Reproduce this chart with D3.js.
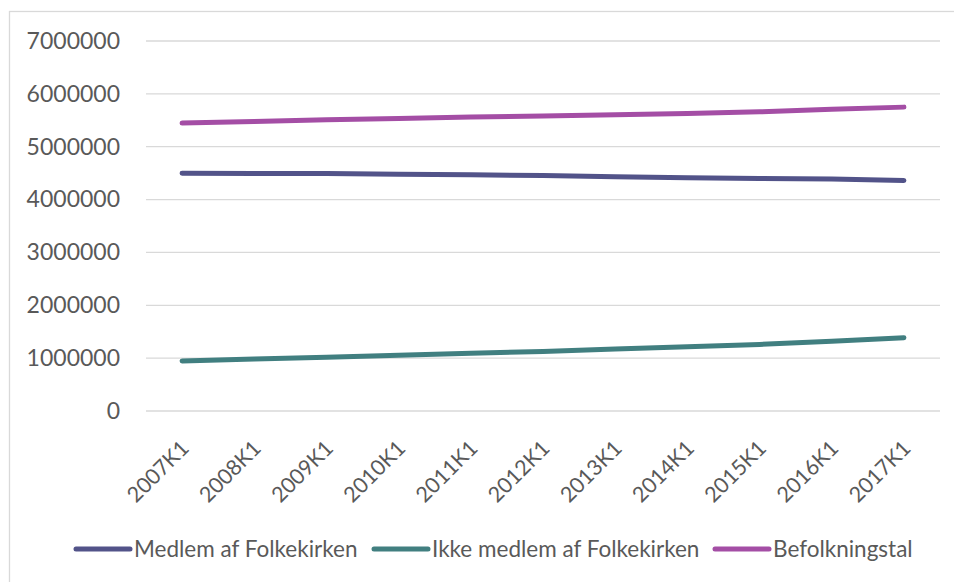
<!DOCTYPE html>
<html>
<head>
<meta charset="utf-8">
<script src="https://cdn.jsdelivr.net/npm/d3@7"></script>
<style>
  body { margin: 0; background: #fff; }
</style>
</head>
<body>
<div id="chart"></div>
<script>
// kvartaler
var quarters = ["2007K1","2008K1","2009K1","2010K1","2011K1","2012K1","2013K1","2014K1","2015K1","2016K1","2017K1"];

var medlem = [4499000, 4494000, 4492000, 4479000, 4469000, 4455000, 4430000, 4413000, 4400000, 4387000, 4362000];
var ikkeMedlem = [948000, 982000, 1019000, 1056000, 1092000, 1126000, 1173000, 1214000, 1260000, 1320000, 1387000];
var befolkning = [5447000, 5476000, 5511000, 5535000, 5561000, 5581000, 5603000, 5627000, 5660000, 5707000, 5749000];

var seriesNames = ["Medlem af Folkekirken", "Ikke medlem af Folkekirken", "Befolkningstal"];
var yTicks = [0, 1000000, 2000000, 3000000, 4000000, 5000000, 6000000, 7000000];

var colors = ["#525389", "#417f80", "#a44ea5"];
var series = [medlem, ikkeMedlem, befolkning];

var W = 954, H = 582;
var margin = {top: 41, left: 146, right: 14, bottom: 171};
var width = W - margin.left - margin.right,
    height = H - margin.top - margin.bottom;
var font = "Lato, 'Open Sans', sans-serif";

var svg = d3.select("#chart").append("svg")
  .attr("width", W).attr("height", H);

// chart area border
svg.append("rect")
  .attr("x", 9.5).attr("y", 11.5)
  .attr("width", 960).attr("height", 600)
  .attr("fill", "none")
  .attr("stroke", "#d9d9d9")
  .attr("stroke-width", 1.3);

var g = svg.append("g")
  .attr("transform", "translate(" + margin.left + "," + margin.top + ")");

var x = d3.scalePoint()
  .domain(quarters)
  .range([0, width])
  .padding(0.5);

var y = d3.scaleLinear()
  .domain([0, 7000000])
  .range([height, 0]);

// gridlines
g.append("g").selectAll("line")
  .data(yTicks)
  .enter().append("line")
    .attr("x1", 0).attr("x2", width)
    .attr("y1", function(d){ return y(d); })
    .attr("y2", function(d){ return y(d); })
    .attr("stroke", "#d9d9d9")
    .attr("stroke-width", 1.3);

// y axis labels
var yAxisG = g.append("g")
  .call(d3.axisLeft(y).tickValues(yTicks).tickSize(0).tickPadding(26).tickFormat(d3.format("d")));
yAxisG.select(".domain").remove();
yAxisG.selectAll("text")
  .attr("fill", "#595959")
  .attr("font-size", "23px")
  .attr("font-family", font);

// x axis labels
var xAxisG = g.append("g")
  .attr("transform", "translate(0," + height + ")")
  .call(d3.axisBottom(x).tickSize(0).tickPadding(0));
xAxisG.select(".domain").remove();
xAxisG.selectAll("text")
  .attr("fill", "#595959")
  .attr("font-size", "21.5px")
  .attr("font-family", font)
  .attr("text-anchor", "end")
  .attr("dy", "0.7em")
  .attr("y", 0)
  .attr("transform", "translate(-3,28) rotate(-45)");

// lines
var line = d3.line()
  .x(function(d, i){ return x(quarters[i]); })
  .y(function(d){ return y(d); });

g.append("g").selectAll("path")
  .data(series)
  .enter().append("path")
    .attr("d", line)
    .attr("fill", "none")
    .attr("stroke", function(d, i){ return colors[i]; })
    .attr("stroke-width", 5)
    .attr("stroke-linecap", "round")
    .attr("stroke-linejoin", "round");

// legend
var legendX = [76, 374, 715];
var legend = svg.append("g").selectAll("g")
  .data(seriesNames)
  .enter().append("g")
    .attr("transform", function(d, i){ return "translate(" + legendX[i] + ",549)"; });

legend.append("line")
  .attr("x1", 0).attr("x2", 54)
  .attr("y1", 0).attr("y2", 0)
  .attr("stroke", function(d, i){ return colors[i]; })
  .attr("stroke-width", 5)
  .attr("stroke-linecap", "round");

legend.append("text")
  .attr("x", 58)
  .attr("dy", "0.35em")
  .attr("fill", "#595959")
  .attr("font-size", "22.5px")
  .attr("font-family", font)
  .text(function(d){ return d; });
</script>
</body>
</html>
